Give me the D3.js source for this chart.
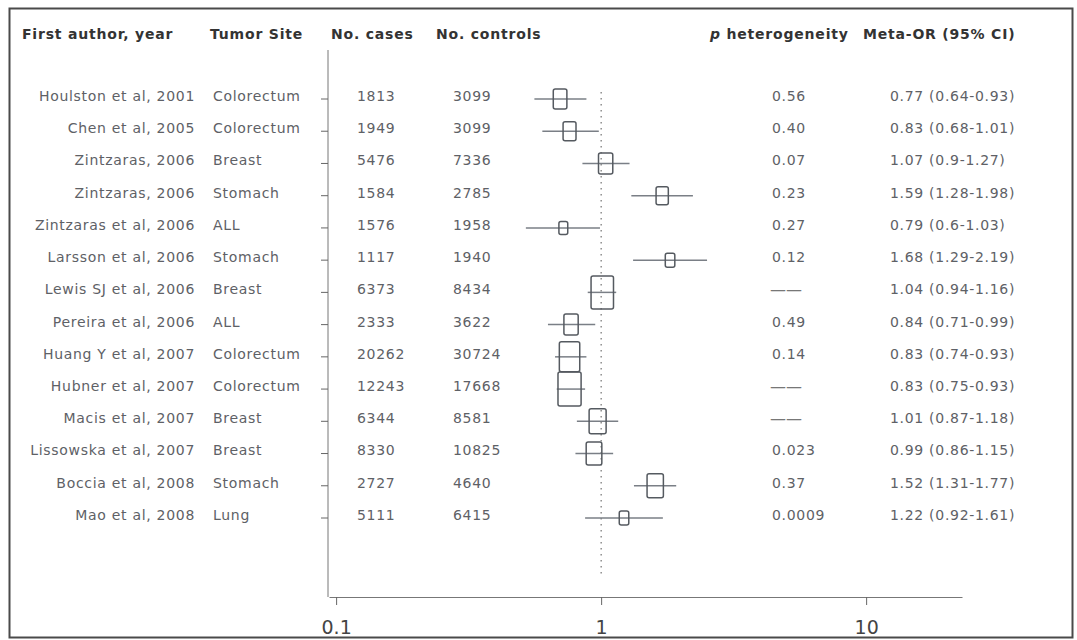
<!DOCTYPE html>
<html>
<head>
<meta charset="utf-8">
<script src="https://cdn.jsdelivr.net/npm/d3@7"></script>
<style>
	body { margin: 0; background: #fff; }
	text { font-family: "DejaVu Sans", Verdana, sans-serif; }
</style>
</head>
<body>
<script>

// study rows, top to bottom
var authors = ["Houlston et al, 2001", "Chen et al, 2005", "Zintzaras, 2006", "Zintzaras, 2006", "Zintzaras et al, 2006",
	"Larsson et al, 2006", "Lewis SJ et al, 2006", "Pereira et al, 2006", "Huang Y et al, 2007", "Hubner et al, 2007",
	"Macis et al, 2007", "Lissowska et al, 2007", "Boccia et al, 2008", "Mao et al, 2008"];
var sites = ["Colorectum", "Colorectum", "Breast", "Stomach", "ALL", "Stomach", "Breast", "ALL",
	"Colorectum", "Colorectum", "Breast", "Breast", "Stomach", "Lung"];
var cases = ["1813", "1949", "5476", "1584", "1576", "1117", "6373", "2333", "20262", "12243", "6344", "8330", "2727", "5111"];
var controls = ["3099", "3099", "7336", "2785", "1958", "1940", "8434", "3622", "30724", "17668", "8581", "10825", "4640", "6415"];
var pHet = ["0.56", "0.40", "0.07", "0.23", "0.27", "0.12", "", "0.49", "0.14", "", "", "0.023", "0.37", "0.0009"];
var metaOR = ["0.77 (0.64-0.93)", "0.83 (0.68-1.01)", "1.07 (0.9-1.27)", "1.59 (1.28-1.98)", "0.79 (0.6-1.03)",
	"1.68 (1.29-2.19)", "1.04 (0.94-1.16)", "0.84 (0.71-0.99)", "0.83 (0.74-0.93)", "0.83 (0.75-0.93)",
	"1.01 (0.87-1.18)", "0.99 (0.86-1.15)", "1.52 (1.31-1.77)", "1.22 (0.92-1.61)"];

// estimates as they are plotted in the picture
var orPlot = [0.70, 0.76, 1.04, 1.70, 0.72, 1.82, 1.01, 0.77, 0.76, 0.76, 0.97, 0.94, 1.60, 1.22];
var loPlot = [0.56, 0.60, 0.85, 1.30, 0.52, 1.32, 0.89, 0.63, 0.67, 0.68, 0.81, 0.80, 1.33, 0.87];
var hiPlot = [0.88, 0.98, 1.28, 2.22, 0.99, 2.51, 1.14, 0.95, 0.88, 0.87, 1.16, 1.11, 1.92, 1.71];
var weights = [20, 19, 21, 18, 13, 14, 33, 21, 30, 34, 25, 23, 24, 14];

var headers = [
	{t: "First author, year", x: 22},
	{t: "Tumor Site", x: 210},
	{t: "No. cases", x: 331},
	{t: "No. controls", x: 436},
	{t: "Meta-OR (95% CI)", x: 863}
];
var xTicks = [0.1, 1, 10];

function main(){

	var w = 1077;
	var h = 640;

	var svg = d3.select("body")
				.append("svg")
				.attr("width", w)
				.attr("height", h);

	// outer frame
	svg.append("rect")
		.attr("x", 9.5)
		.attr("y", 8.5)
		.attr("width", 1063)
		.attr("height", 629)
		.attr("fill", "none")
		.attr("stroke", "#4a4a4a")
		.attr("stroke-width", 2);

	var x = d3.scaleLog().domain([0.094, 23]).range([329, 962]);
	var y = d3.scalePoint().domain(d3.range(authors.length)).range([99, 518]);
	var size = d3.scaleLinear().domain([0, 34]).range([0, 34]);

	// headers
	svg.selectAll(".hdr")
		.data(headers)
		.enter()
		.append("text")
		.attr("class", "hdr")
		.attr("x", function(d){ return d.x; })
		.attr("y", 39)
		.attr("font-size", 14)
		.attr("letter-spacing", 0.8)
		.attr("font-weight", "bold")
		.attr("fill", "#333")
		.text(function(d){ return d.t; });

	var ph = svg.append("text")
		.attr("x", 710)
		.attr("y", 39)
		.attr("font-size", 14)
		.attr("letter-spacing", 0.8)
		.attr("font-weight", "bold")
		.attr("fill", "#333");
	ph.append("tspan").attr("font-style", "italic").text("p");
	ph.append("tspan").text(" heterogeneity");

	// left axis with a tick on every row
	svg.append("line")
		.attr("x1", 328).attr("x2", 328)
		.attr("y1", 50).attr("y2", 597)
		.attr("stroke", "#777");
	svg.selectAll(".rtick")
		.data(authors)
		.enter()
		.append("line")
		.attr("class", "rtick")
		.attr("x1", 321).attr("x2", 328)
		.attr("y1", function(d, i){ return y(i); })
		.attr("y2", function(d, i){ return y(i); })
		.attr("stroke", "#666");

	// bottom axis
	var axis = svg.append("g")
		.attr("transform", "translate(0,597)")
		.call(d3.axisBottom(x).tickValues(xTicks).tickSize(8).tickPadding(16).tickFormat(d3.format("")).tickSizeOuter(0));
	axis.select(".domain").attr("stroke", "#777");
	axis.selectAll(".tick line").attr("stroke", "#666");
	axis.selectAll(".tick text")
		.attr("font-family", "'Liberation Sans', Arial, sans-serif")
		.attr("font-size", 19)
		.attr("fill", "#444");

	// reference line at OR = 1
	svg.append("line")
		.attr("x1", x(1)).attr("x2", x(1))
		.attr("y1", 92).attr("y2", 578)
		.attr("stroke", "#555")
		.attr("stroke-dasharray", "1.5,4.5");

	// table columns
	function column(arr, xpos, anchor){
		svg.append("g")
			.selectAll("text")
			.data(arr)
			.enter()
			.append("text")
			.attr("x", xpos)
			.attr("y", function(d, i){ return y(i) - 3; })
			.attr("dy", "0.35em")
			.attr("text-anchor", anchor)
			.attr("font-size", 14)
			.attr("letter-spacing", 0.7)
			.attr("fill", "#5e6166")
			.text(function(d){ return d; });
	}
	column(authors, 195, "end");
	column(sites, 213, "start");
	column(cases, 357, "start");
	column(controls, 453, "start");
	column(pHet, 772, "start");
	column(metaOR, 890, "start");

	// missing heterogeneity shown as a dash
	svg.append("g")
		.selectAll("text")
		.data(pHet.map(function(d, i){ return {v: d, i: i}; }).filter(function(d){ return d.v === ""; }))
		.enter()
		.append("text")
		.attr("x", 770)
		.attr("y", function(d){ return y(d.i) - 3; })
		.attr("dy", "0.35em")
		.attr("font-size", 16)
		.attr("fill", "#777")
		.text("——");

	// confidence intervals
	svg.selectAll(".ci")
		.data(orPlot)
		.enter()
		.append("line")
		.attr("class", "ci")
		.attr("x1", function(d, i){ return x(loPlot[i]); })
		.attr("x2", function(d, i){ return x(hiPlot[i]); })
		.attr("y1", function(d, i){ return y(i); })
		.attr("y2", function(d, i){ return y(i); })
		.attr("stroke", "#7a7f86")
		.attr("stroke-width", 1.5);

	// weight boxes
	svg.selectAll(".box")
		.data(orPlot)
		.enter()
		.append("rect")
		.attr("class", "box")
		.attr("x", function(d, i){ return x(d) - size(weights[i]) * 0.34; })
		.attr("y", function(d, i){ return y(i) - size(weights[i]) / 2; })
		.attr("width", function(d, i){ return size(weights[i]) * 0.68; })
		.attr("height", function(d, i){ return size(weights[i]); })
		.attr("rx", 2)
		.attr("fill", "none")
		.attr("stroke", "#555a60")
		.attr("stroke-width", 1.5);
}

main();

</script>
</body>
</html>
